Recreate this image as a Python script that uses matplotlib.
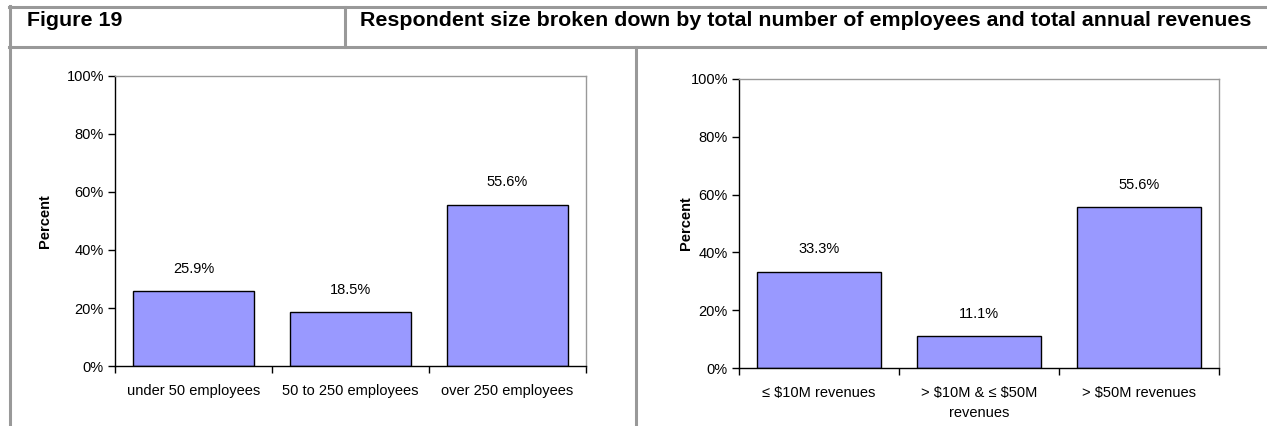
import matplotlib
matplotlib.use("Agg")
import matplotlib.pyplot as plt
from matplotlib.lines import Line2D
from matplotlib.ticker import PercentFormatter

plt.rcParams['font.family'] = ['Liberation Sans', 'DejaVu Sans']

# Data
emp_categories = ["under 50 employees", "50 to 250 employees", "over 250 employees"]
emp_values = [25.9, 18.5, 55.6]
rev_categories = ["\u2264 \\$10M revenues", "> \\$10M & \u2264 \\$50M\nrevenues", "> \\$50M revenues"]
rev_values = [33.3, 11.1, 55.6]

figure_number = "Figure 19"
figure_title = "Respondent size broken down by total number of employees and total annual revenues"

W, H = 1267, 426
fig = plt.figure(figsize=(W / 100, H / 100), dpi=100)
fig.patch.set_facecolor("white")


def px_axes(x0, x1, ytop, ybot):
    return fig.add_axes([x0 / W, (H - ybot) / H, (x1 - x0) / W, (ybot - ytop) / H])


def hline(y, x0, x1):
    fig.add_artist(Line2D([x0 / W, x1 / W], [(H - y) / H, (H - y) / H],
                          color="#999999", lw=2.2, transform=fig.transFigure))


def vline(x, y0, y1):
    fig.add_artist(Line2D([x / W, x / W], [(H - y0) / H, (H - y1) / H],
                          color="#999999", lw=2.2, transform=fig.transFigure))


# Table frame
hline(7, 9, W)
hline(47, 9, W)
vline(10, 6, H)
vline(345, 7, 47)
vline(636, 47, H)

fig.text(27 / W, (H - 26) / H, figure_number, fontsize=15.4, fontweight="bold",
         ha="left", va="baseline")
fig.text(360 / W, (H - 26) / H, figure_title, fontsize=15.4, fontweight="bold",
         ha="left", va="baseline")


def bar_panel(ax, cats, vals, label_x):
    xs = list(range(len(cats)))
    ax.bar(xs, vals, width=0.77, color="#9999FF", edgecolor="black", linewidth=1.0)
    ax.set_xlim(-0.5, len(cats) - 0.5)
    ax.set_ylim(0, 100)
    ax.set_yticks([0, 20, 40, 60, 80, 100])
    ax.yaxis.set_major_formatter(PercentFormatter(decimals=0))
    ax.set_xticks(xs)
    ax.set_xticklabels(cats, fontsize=10.5, linespacing=1.5)
    ax.set_xticks([x - 0.5 for x in range(len(cats) + 1)], minor=True)
    ax.tick_params(axis="x", which="major", length=0, pad=13)
    ax.tick_params(axis="x", which="minor", length=5, width=1, direction="out")
    ax.tick_params(axis="y", length=5, width=1, direction="out", labelsize=10.5, pad=3)
    for s in ("top", "right"):
        ax.spines[s].set_color("#999999")
        ax.spines[s].set_linewidth(1)
    for s in ("left", "bottom"):
        ax.spines[s].set_color("black")
        ax.spines[s].set_linewidth(1)
    for x, v in zip(xs, vals):
        ax.annotate(f"{v:.1f}%", (x, v), xytext=(0, 11), textcoords="offset points",
                    ha="center", va="bottom", fontsize=10.5)
    ax.set_ylabel("Percent", fontsize=10.5, fontweight="bold")
    ax.yaxis.set_label_coords(label_x, 0.5)


ax1 = px_axes(115, 586, 76, 366)
bar_panel(ax1, emp_categories, emp_values, -0.134)

ax2 = px_axes(739, 1219, 79, 368)
bar_panel(ax2, rev_categories, rev_values, -0.096)

fig.savefig("out.png", dpi=100, facecolor="white")
